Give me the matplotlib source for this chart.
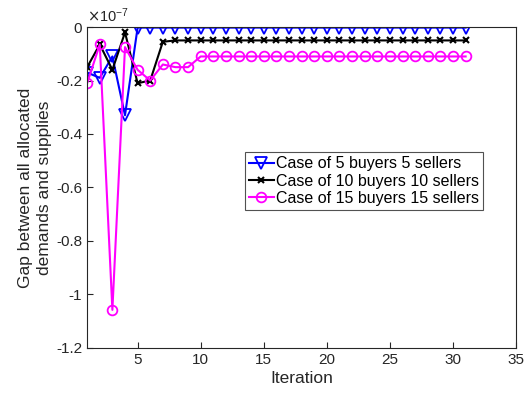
import matplotlib
matplotlib.use("Agg")
import matplotlib.pyplot as plt
import numpy as np

plt.rcParams['font.family'] = ['Liberation Sans', 'DejaVu Sans']

# Gap values, in units of 1e-7
iterations = list(range(1, 32))
gap_5 = [-0.17, -0.19, -0.11, -0.33] + [-0.002] * 27
gap_10 = [-0.15, -0.065, -0.16, -0.02, -0.21, -0.20, -0.055] + [-0.05] * 24
gap_15 = [-0.21, -0.065, -1.058, -0.075, -0.16, -0.20, -0.14, -0.15, -0.15] + [-0.11] * 22

labels = ["Case of 5 buyers 5 sellers",
          "Case of 10 buyers 10 sellers",
          "Case of 15 buyers 15 sellers"]

x_ticks = [5, 10, 15, 20, 25, 30, 35]
y_ticks = [0, -0.2, -0.4, -0.6, -0.8, -1.0, -1.2]
y_ticklabels = ["0", "-0.2", "-0.4", "-0.6", "-0.8", "-1", "-1.2"]

grey = (0.15, 0.15, 0.15)

fig = plt.figure(figsize=(5.25, 3.98), dpi=100)
ax = fig.add_axes([0.166, 0.126, 0.817, 0.806])

ax.plot(iterations, gap_5, color=(0, 0, 1), lw=1.5, marker='v', ms=8,
        mfc='none', mew=1.3, label=labels[0])
ax.plot(iterations, gap_10, color='black', lw=1.5, marker='x', ms=5,
        mew=1.5, label=labels[1])
ax.plot(iterations, gap_15, color=(1, 0, 1), lw=1.5, marker='o', ms=7,
        mfc='none', mew=1.3, label=labels[2])

ax.set_xlim(1, 35)
ax.set_ylim(-1.2, 0)
ax.set_xticks(x_ticks)
ax.set_yticks(y_ticks)
ax.set_yticklabels(y_ticklabels)
ax.tick_params(direction='in', length=4, colors=grey, labelsize=11,
               top=False, right=False)
for s in ax.spines.values():
    s.set_color(grey)
    s.set_linewidth(0.8)

ax.set_xlabel("Iteration", fontsize=12.5, color=grey, labelpad=3)
ax.set_ylabel("Gap between all allocated\ndemands and supplies",
              fontsize=12.5, color=grey, labelpad=3, linespacing=1.3)
ax.text(0.0, 1.005, r"$\times\mathregular{10^{-7}}$", transform=ax.transAxes,
        fontsize=10.5, color=grey, ha='left', va='bottom')

leg = ax.legend(loc='upper left', bbox_to_anchor=(0.367, 0.61),
                fontsize=11.5, frameon=True, fancybox=False,
                edgecolor=grey, handlelength=1.6, handletextpad=0.1,
                borderpad=0.25, labelspacing=0.15, borderaxespad=0)
leg.get_frame().set_linewidth(0.8)
for t in leg.get_texts():
    t.set_color('black')

fig.savefig("out.png", dpi=100)
